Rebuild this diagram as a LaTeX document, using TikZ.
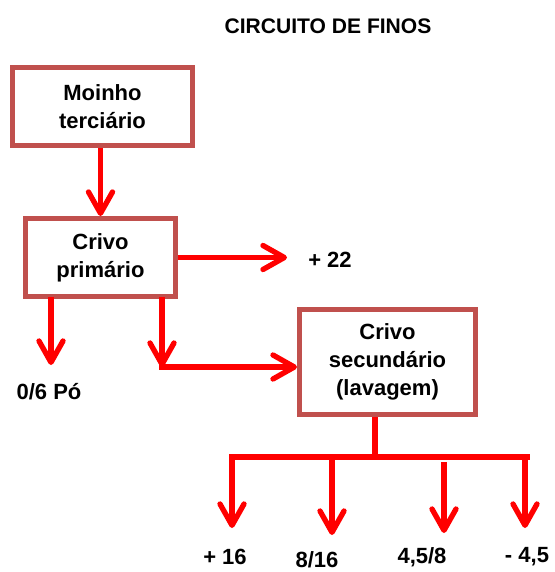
\documentclass[tikz,border=0pt]{standalone}
\usepackage{fontspec}
\setmainfont{Liberation Sans}
\usetikzlibrary{arrows.meta}
\definecolor{boxred}{HTML}{C0504D}
\definecolor{arrred}{HTML}{FF0000}
\tikzset{
  box/.style={draw=boxred, line width=3.75pt, fill=white, align=center,
    inner sep=0pt, font=\bfseries\fontsize{16.5pt}{21pt}\selectfont},
  lbl/.style={inner sep=0pt, font=\bfseries\fontsize{16.5pt}{21pt}\selectfont},
  arr/.style={draw=arrred, line width=4pt,
    -{Straight Barb[length=16pt,width=18pt,round]}},
  ln/.style={draw=arrred, line width=4pt}
}
\begin{document}
\begin{tikzpicture}[x=0.75pt,y=-0.75pt]
\useasboundingbox (0,0) rectangle (555,572);
\node[lbl, font=\bfseries\fontsize{15.8pt}{18pt}\selectfont] (title) at (328,26) {CIRCUITO DE FINOS};
\node[box, minimum width=180*0.75pt, minimum height=78*0.75pt] (m1) at (102.5,106.5) {Moinho\\terciário};
\node[box, minimum width=150*0.75pt, minimum height=78*0.75pt] (c1) at (100.5,257.5) {Crivo\\primário};
\node[box, minimum width=176*0.75pt, minimum height=105*0.75pt] (c2) at (387.5,362) {Crivo\\secundário\\(lavagem)};

\node[lbl] (p22) at (330,260) {+ 22};
\node[lbl] (o6) at (49,392) {0/6 Pó};
\node[lbl] (p16) at (225,557) {+ 16};
\node[lbl] (m816) at (317,560) {8/16};
\node[lbl] (m458) at (422,557) {4,5/8};
\node[lbl] (n45) at (527,557) {- 4,5};

\coordinate (t22) at (287,257.5);
\coordinate (s1) at (51,297);
\coordinate (t1) at (51,365);
\coordinate (s2) at (162,297);
\coordinate (k) at (162,367);
\coordinate (j) at (375,457);
\coordinate (hl) at (232,457);
\coordinate (hr) at (527,457);
\coordinate (a1) at (232,528);
\coordinate (a2) at (332,535);
\coordinate (b3) at (444,462);
\coordinate (a3) at (444,533);
\coordinate (a4) at (525,528);

\draw[arr] (m1.south -| c1.north) -- (c1.north);
\draw[arr] (c1.east) -- (t22);
\draw[arr] (s1) -- (t1);
\draw[arr] (s2) -- (k);
\draw[arr] ([xshift=-2pt]k) -- (c2.west |- k);
\draw[ln] (c2.south -| j) -- (j);
\draw[ln, line cap=rect] (hl) -- (hr);
\draw[arr] (hl) -- (a1);
\draw[arr] (hl -| a2) -- (a2);
\draw[arr] (b3) -- (a3);
\draw[arr] (hr -| a4) -- (a4);
\end{tikzpicture}
\end{document}
